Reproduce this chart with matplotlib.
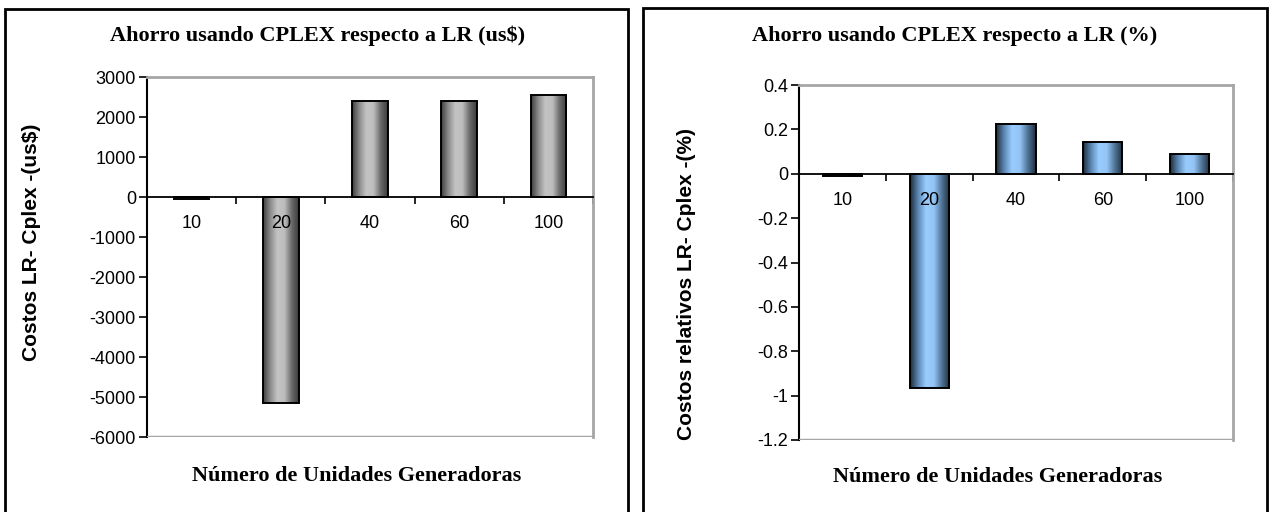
import numpy as np
import matplotlib
matplotlib.use("Agg")
import matplotlib.pyplot as plt
from matplotlib.colors import LinearSegmentedColormap
from matplotlib.patches import Rectangle
from matplotlib.ticker import FixedLocator, NullFormatter

# datos: numero de unidades y ahorro de CPLEX frente a LR
unidades = ["10", "20", "40", "60", "100"]
ahorro_usd = [-60, -5150, 2400, 2400, 2550]
ahorro_pct = [-0.01, -0.965, 0.225, 0.145, 0.09]

titulo_usd = "Ahorro usando CPLEX respecto a LR (us$)"
titulo_pct = "Ahorro usando CPLEX respecto a LR (%)"
eje_x = "Número de Unidades Generadoras"
eje_y_usd = "Costos LR- Cplex -(us$)"
eje_y_pct = "Costos relativos LR- Cplex -(%)"

W, H = 1269, 512
SERIF = "Liberation Serif"
SANS = "Liberation Sans"

gris = LinearSegmentedColormap.from_list(
    "gris", ["#3c3c3c", "#8a8a8a", "#c4c4c4", "#bdbdbd", "#6a6a6a", "#3a3a3a"])
azul = LinearSegmentedColormap.from_list(
    "azul", ["#1c2a3a", "#5b86b0", "#99ccff", "#93c4f4", "#4f7396", "#1e2c3c"])


def px(x0, y0, x1, y1):
    # caja en pixeles (origen arriba a la izquierda) -> coords de figura
    return [x0 / W, 1 - y1 / H, (x1 - x0) / W, (y1 - y0) / H]


def barras_degradado(ax, vals, width, cmap):
    xs = np.arange(len(vals))
    bars = ax.bar(xs, vals, width, facecolor="none", edgecolor="black",
                  linewidth=1.4, zorder=2)
    grad = np.linspace(0, 1, 256).reshape(1, -1)
    for b in bars:
        x0, y0 = b.get_x(), b.get_y()
        w, h = b.get_width(), b.get_height()
        im = ax.imshow(grad, extent=[x0, x0 + w, y0, y0 + h], aspect="auto",
                       cmap=cmap, zorder=1, interpolation="bilinear")
        im.set_clip_path(b)


def panel(fig, rect, vals, width, cmap, ylim, yticks, yfmt):
    ax = fig.add_axes(rect)
    barras_degradado(ax, vals, width, cmap)
    ax.set_xlim(-0.5, len(vals) - 0.5)
    ax.set_ylim(*ylim)

    ax.set_yticks(yticks)
    ax.set_yticklabels([yfmt(v) for v in yticks], fontsize=13, family=SANS)
    ax.tick_params(axis="y", direction="out", length=6, width=1.2, pad=2)

    # eje x sobre el cero, marcas entre categorias
    ax.spines["bottom"].set_position(("data", 0))
    ax.spines["bottom"].set_color("black")
    ax.spines["bottom"].set_linewidth(1.3)
    ax.spines["left"].set_color("black")
    ax.spines["left"].set_linewidth(1.5)
    for s in ("top", "right"):
        ax.spines[s].set_color("#a6a6a6")
        ax.spines[s].set_linewidth(2)
    ax.axhline(ylim[0], color="#a6a6a6", lw=2.5, zorder=3)

    ax.xaxis.set_major_locator(FixedLocator(np.arange(len(vals)) + 0.5))
    ax.xaxis.set_major_formatter(NullFormatter())
    ax.set_xticks(np.arange(len(vals)), minor=True)
    ax.set_xticklabels(unidades, minor=True, fontsize=13, family=SANS)
    ax.tick_params(axis="x", which="major", direction="out", length=5, width=1.2)
    ax.tick_params(axis="x", which="minor", length=0, pad=13)
    return ax


fig = plt.figure(figsize=(W / 100, H / 100), dpi=100)

# marcos de cada grafico
for x0, x1, y0 in ((4.5, 628, 9), (643, 1267, 8)):
    fig.add_artist(Rectangle((x0 / W, -0.05), (x1 - x0) / W, 1.05 - y0 / H,
                             transform=fig.transFigure, fill=False,
                             edgecolor="black", linewidth=2))

panel(fig, px(147, 77, 593, 437), ahorro_usd, 0.4, gris,
      (-6000, 3000), np.arange(-6000, 3001, 1000), lambda v: f"{v:.0f}")
panel(fig, px(799, 85, 1233, 440), ahorro_pct, 0.45, azul,
      (-1.2, 0.4), np.round(np.arange(-1.2, 0.41, 0.2), 1),
      lambda v: f"{v + 0.0:g}" if abs(v) > 1e-9 else "0")

fig.text(318 / W, 1 - 36 / H, titulo_usd, ha="center", va="center",
         fontsize=16, fontweight="bold", family=SERIF)
fig.text(955 / W, 1 - 36 / H, titulo_pct, ha="center", va="center",
         fontsize=16, fontweight="bold", family=SERIF)
fig.text(357 / W, 1 - 476 / H, eje_x, ha="center", va="center",
         fontsize=16, fontweight="bold", family=SERIF)
fig.text(998 / W, 1 - 477 / H, eje_x, ha="center", va="center",
         fontsize=16, fontweight="bold", family=SERIF)
fig.text(32 / W, 1 - 242 / H, eje_y_usd, ha="center", va="center",
         rotation=90, fontsize=15, fontweight="bold", family=SANS)
fig.text(686 / W, 1 - 284 / H, eje_y_pct, ha="center", va="center",
         rotation=90, fontsize=15, fontweight="bold", family=SANS)

fig.savefig("out.png", dpi=100)
